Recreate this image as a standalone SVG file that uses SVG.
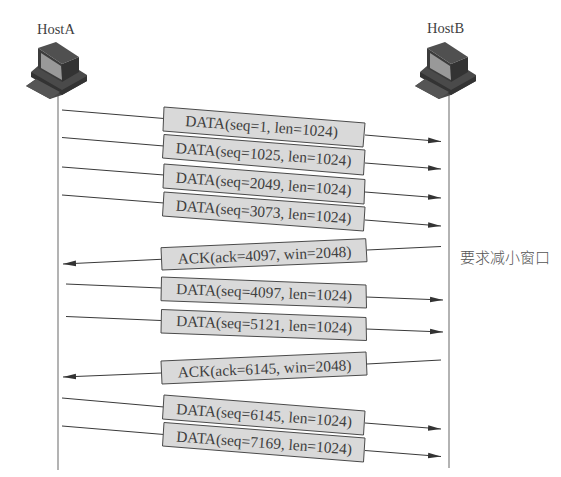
<svg xmlns="http://www.w3.org/2000/svg" width="561" height="477" viewBox="0 0 561 477">
<style>
text{font-family:"Liberation Serif","Noto Sans CJK SC",serif;fill:#3f3f3f}
.m{font-size:15.4px}
.h{font-size:14.5px}
.box{fill:#d9d9d9;stroke:#4a4a4a;stroke-width:1}
.ln{fill:none;stroke:#3a3a3a;stroke-width:1}
.ar{fill:none;stroke:#3a3a3a;stroke-width:1;marker-end:url(#a)}
.life{stroke:#808080;stroke-width:1.2;fill:none}
</style>
<defs>
<marker id="a" markerUnits="userSpaceOnUse" markerWidth="14" markerHeight="8" refX="13" refY="4" orient="auto"><path d="M0 1.200L13 4L0 6.800Z" fill="#333"/></marker>
<g id="pc">
<path d="M31 72L38 66L62 79L79 70L87 75L87 81L62 95L50 99L26 86L36 79Z" fill="#4a4a4a"/>
<path d="M31 72L62 90L87 76L87 81L62 95L31 77Z" fill="#333"/>
<path d="M26 86L36 79L60 92L50 99Z" fill="#555"/>
<path d="M38 48L56 42L79 57L62 64Z" fill="#505050"/>
<path d="M38 48L62 64L62 82L38 68Z" fill="#3c3c3c"/>
<path d="M41 53L61 66L62 80L41 68Z" fill="#999"/>
<path d="M62 64L79 57L79 72L62 82Z" fill="#333"/>
</g>
</defs>
<g id="connectors">
<path class="life" d="M58 95V470"/>
<path class="life" d="M449 95V468"/>
<path class="ln" d="M62 110L164 118.500"/><path class="ar" d="M365 135L441 141.500"/>
<path class="ln" d="M62 137.500L164 146"/><path class="ar" d="M365 163L441 169"/>
<path class="ln" d="M62 167L164 175"/><path class="ar" d="M365 192L441 198"/>
<path class="ln" d="M62 195L164 203"/><path class="ar" d="M365 220L441 226"/>
<path class="ar" d="M161 259.300L63 264"/><path class="ln" d="M367 250L441 246.500"/>
<path class="ln" d="M66 284L161 288"/><path class="ar" d="M366 297L443 300"/>
<path class="ln" d="M66 316.500L161 320.500"/><path class="ar" d="M366 329L443 332"/>
<path class="ar" d="M161 373L63 377"/><path class="ln" d="M367 364L441 360"/>
<path class="ln" d="M62 398L164 407"/><path class="ar" d="M365 423L441 429"/>
<path class="ln" d="M62 426L164 434.500"/><path class="ar" d="M365 450.500L441 456.500"/>
</g>
<g id="hostA"><use href="#pc"/><text class="h" x="37" y="34">HostA</text></g>
<g id="hostB"><use href="#pc" x="389"/><text class="h" x="427" y="33">HostB</text></g>
<g id="msg1"><path class="box" d="M164 107L365 123L363 147L163 131Z"/><text class="m" transform="translate(185 126) rotate(4.2)">DATA(seq=1, len=1024)</text></g>
<g id="msg2"><path class="box" d="M164 134.500L365 150L363.500 175L162.500 158Z"/><text class="m" transform="translate(175.500 153) rotate(4.2)">DATA(seq=1025, len=1024)</text></g>
<g id="msg3"><path class="box" d="M164 164L365 179.500L364 204L163 188Z"/><text class="m" transform="translate(175.500 182.500) rotate(4.2)">DATA(seq=2049, len=1024)</text></g>
<g id="msg4"><path class="box" d="M164 192L365 207L363.500 231L162.500 216Z"/><text class="m" transform="translate(175.500 210.500) rotate(4.2)">DATA(seq=3073, len=1024)</text></g>
<g id="ack1"><path class="box" d="M161 247.700L365.700 238.700L367 261.700L162 270Z"/><text class="m" transform="translate(178 264) rotate(-2.400)">ACK(ack=4097, win=2048)</text></g>
<g id="msg5"><path class="box" d="M161.500 277L366 285L366.500 308L161 300.700Z"/><text class="m" transform="translate(176 294) rotate(2.300)">DATA(seq=4097, len=1024)</text></g>
<g id="msg6"><path class="box" d="M161.500 309.500L366 317.500L366.500 340.500L161 333Z"/><text class="m" transform="translate(176 326) rotate(2.300)">DATA(seq=5121, len=1024)</text></g>
<g id="ack2"><path class="box" d="M161 361L366 352L367 375L162 384Z"/><text class="m" transform="translate(178 377.500) rotate(-2.400)">ACK(ack=6145, win=2048)</text></g>
<g id="msg7"><path class="box" d="M164 395L365 411L363.500 435L162.500 419Z"/><text class="m" transform="translate(176 414) rotate(4.200)">DATA(seq=6145, len=1024)</text></g>
<g id="msg8"><path class="box" d="M164 422.500L365 438L363.500 462L162.500 446Z"/><text class="m" transform="translate(176 441.500) rotate(4.200)">DATA(seq=7169, len=1024)</text></g>
<text id="note" x="460" y="263" style="font-size:15px;font-weight:300;fill:#555;font-family:'Noto Sans CJK SC',sans-serif">要求减小窗口</text>
</svg>
